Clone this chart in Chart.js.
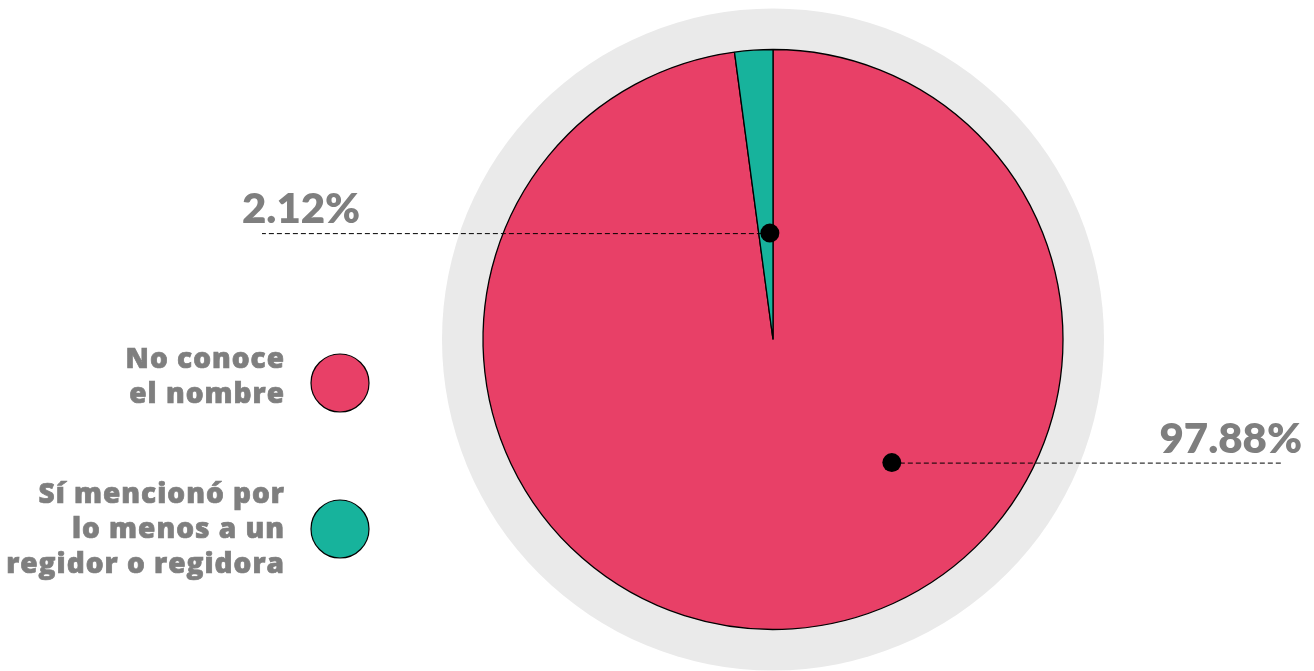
<!DOCTYPE html>
<html>
<head>
<meta charset="utf-8">
<script src="https://cdn.jsdelivr.net/npm/chart.js@4"></script>
<style>
  html, body { margin: 0; padding: 0; background: #ffffff; }
  #wrap { position: relative; width: 1314px; height: 671px; }
</style>
</head>
<body>
<div id="wrap"><canvas id="pie"></canvas></div>
<script>
// datos del gráfico
const labels = ['No conoce el nombre', 'Sí mencionó por lo menos a un regidor o regidora'];
const legendLines = [['No conoce', 'el nombre'], ['Sí mencionó por', 'lo menos a un', 'regidor o regidora']];
const values = [97.88, 2.12];
const valueLabels = ['97.88%', '2.12%'];
const colors = ['#E84067', '#17B39C'];

const TEXT_GRAY = '#7f7f7f';

// circulo gris detras del pastel
const backdropPlugin = {
    id: 'backdrop',
    beforeDatasetsDraw(chart) {
        const arc = chart.getDatasetMeta(0).data[0];
        if (!arc) return;
        const ctx = chart.ctx;
        ctx.save();
        ctx.beginPath();
        ctx.arc(arc.x, arc.y, 331, 0, Math.PI * 2);
        ctx.fillStyle = '#EAEAEA';
        ctx.fill();
        ctx.restore();
    }
};

// leyenda a la izquierda
const sideLegendPlugin = {
    id: 'sideLegend',
    afterDraw(chart, args, opts) {
        const ctx = chart.ctx;
        ctx.save();
        legendLines.forEach((lines, i) => {
            const cy = opts.centers[i];
            ctx.beginPath();
            ctx.arc(opts.dotX, cy, 29, 0, Math.PI * 2);
            ctx.fillStyle = colors[i];
            ctx.fill();
            ctx.lineWidth = 1.2;
            ctx.strokeStyle = '#000';
            ctx.stroke();

            ctx.fillStyle = TEXT_GRAY;
            ctx.strokeStyle = TEXT_GRAY;
            ctx.lineWidth = 0.7;
            ctx.font = '800 28px "Open Sans", Lato, sans-serif';
            ctx.letterSpacing = '1px';
            ctx.textAlign = 'right';
            ctx.textBaseline = 'alphabetic';
            lines.forEach((t, j) => {
                const y = opts.firstBaselines[i] + j * 35;
                ctx.fillText(t, opts.textRight + 1, y);
                ctx.strokeText(t, opts.textRight + 1, y);
            });
        });
        ctx.restore();
    }
};

// etiquetas de porcentaje con linea punteada
const callouts = {
    id: 'callouts',
    afterDraw(chart, args, opts) {
        const meta = chart.getDatasetMeta(0);
        const ctx = chart.ctx;
        ctx.save();
        meta.data.forEach((arc, i) => {
            const c = opts.items[i];
            if (!c) return;
            const ang = arc.startAngle + (arc.endAngle - arc.startAngle) * c.angleFrac;
            const r = arc.outerRadius * c.radiusFrac;
            const px = arc.x + Math.cos(ang) * r;
            const py = arc.y + Math.sin(ang) * r;

            ctx.beginPath();
            ctx.setLineDash([5, 3]);
            ctx.lineWidth = 1;
            ctx.strokeStyle = '#000';
            ctx.moveTo(px, py + 0.5);
            ctx.lineTo(c.lineEnd, py + 0.5);
            ctx.stroke();
            ctx.setLineDash([]);

            ctx.beginPath();
            ctx.arc(px, py, 9.5, 0, Math.PI * 2);
            ctx.fillStyle = '#000';
            ctx.fill();

            ctx.fillStyle = TEXT_GRAY;
            ctx.font = '800 42px Lato, "Open Sans", sans-serif';
            ctx.textAlign = c.align;
            ctx.textBaseline = 'alphabetic';
            ctx.fillText(valueLabels[i], c.textX, py - 10);
        });
        ctx.restore();
    }
};

new Chart(document.getElementById('pie'), {
    type: 'pie',
    data: {
        labels: labels,
        datasets: [{
            data: values,
            backgroundColor: colors,
            borderColor: '#000',
            borderWidth: 1.3,
            radius: 290
        }]
    },
    options: {
        responsive: true,
        maintainAspectRatio: false,
        animation: false,
        layout: { padding: { left: 232, right: 0, top: 8, bottom: 0 } },
        plugins: {
            legend: { display: false },
            tooltip: { enabled: false },
            sideLegend: { dotX: 340, centers: [383, 529], firstBaselines: [368, 503], textRight: 284 },
            callouts: {
                items: [
                    { angleFrac: 0.386, radiusFrac: 0.59, lineEnd: 1283, textX: 1302, align: 'right' },
                    { angleFrac: 0.78, radiusFrac: 0.367, lineEnd: 262, textX: 242, align: 'left' }
                ]
            }
        }
    },
    plugins: [backdropPlugin, sideLegendPlugin, callouts]
});
</script>
</body>
</html>
